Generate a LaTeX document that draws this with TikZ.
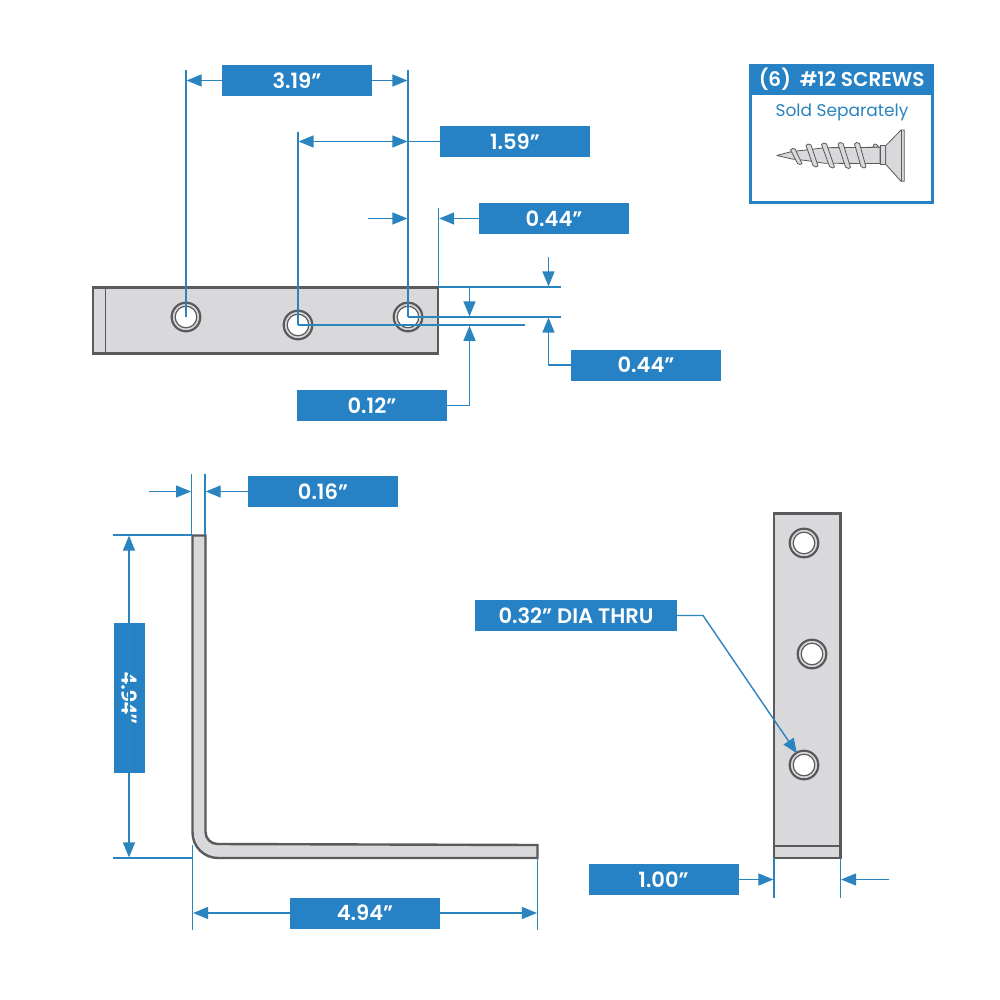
\documentclass[tikz,border=0pt]{standalone}
\usepackage{fontspec}
\setmainfont{Poppins}[BoldFont={Poppins SemiBold}]
\newfontfamily\sidefont{Open Sans}[BoldFont={Open Sans Bold}]
\usetikzlibrary{arrows.meta}
\definecolor{dimblue}{HTML}{2682C4}
\definecolor{lineblue}{HTML}{2A84BE}
\definecolor{steel}{HTML}{D9D9DB}
\definecolor{edgegray}{HTML}{5A5A5C}
\tikzset{
  x=1pt,y=-1pt,
  dimbox/.style={fill=dimblue,text=white,font=\fontsize{21}{24}\selectfont\bfseries,minimum width=150pt,minimum height=31pt,inner sep=0pt,outer sep=0pt},
  dimline/.style={draw=lineblue,line width=1.4pt},
  dimarrow/.style={dimline,-{Triangle[length=15pt,width=12pt]}},
  dimboth/.style={dimline,{Triangle[length=15pt,width=12pt]}-{Triangle[length=15pt,width=12pt]}},
  part/.style={draw=edgegray,fill=steel,line width=2.4pt,line join=miter},
  foldline/.style={draw=edgegray,line width=1.5pt},
  thread/.style={fill=steel,draw=edgegray,line width=0.8pt},
}
\newcommand{\holeat}[2]{%
  \fill[white] (#1,#2) circle[radius=10.5];
  \draw[edgegray,line width=2.2pt] (#1,#2) circle[radius=14.3];
  \draw[edgegray,line width=1.2pt] (#1,#2) circle[radius=10.8];
}
\begin{document}
\begin{tikzpicture}
\useasboundingbox (0,0) rectangle (1000,1000);
\fill[white] (0,0) rectangle (1000,1000);

% ---- top plate
\draw[part] (93,287.5) rectangle (438,353.5);
\draw[foldline] (105.5,287.5) -- (105.5,353.5);
\holeat{186}{317}\holeat{298}{325}\holeat{408}{317}

% value boxes
\node[dimbox] (a) at (297,80.5) {3.19”};
\node[dimbox] (b) at (515,141.5) {1.59”};
\node[dimbox] (c) at (554,218.5) {0.44”};
\node[dimbox] (d) at (646,365) {0.44”};
\node[dimbox] (e) at (372,405.5) {0.12”};
\node[dimbox] (f) at (323,491.5) {0.16”};
\node[dimbox,rotate=-90,font=\fontsize{21}{24}\selectfont\sidefont\bfseries] (g) at (129,698) {4.94”};
\node[dimbox] (h) at (365,913) {4.94”};
\node[dimbox] (i) at (663.5,879.5) {1.00”};
\node[dimbox,minimum width=202pt] (j) at (576,615.5) {0.32” DIA THRU};

% coordinates of the dimension references
\coordinate (h1) at (186,317);\coordinate (h1t) at (186,70);
\coordinate (h2) at (298,325);\coordinate (h2t) at (298,132);
\coordinate (h3) at (408,317);\coordinate (h3t) at (408,70);
\coordinate (edge) at (438.5,287);\coordinate (edget) at (438.5,208);
\draw[dimline] (h1t) -- (h1);
\draw[dimline] (h2t) -- (h2);
\draw[dimline] (h3t) -- (h3);
\draw[dimline] (edget) -- (edge);
\coordinate (r1) at (561,287);\coordinate (r2) at (561,317);\coordinate (r3) at (525,325);
\draw[dimline] (edge) -- (r1);
\draw[dimline] (h3) -- (r2);
\draw[dimline] (h2) -- (r3);

\draw[dimarrow] (a.west) -- (186.6,80.5);
\draw[dimarrow] (a.east) -- (407.4,80.5);
\draw[dimline] (b.west) -- (408,141.5);
\draw[dimboth] (298.6,141.5) -- (407.4,141.5);
\coordinate (c0) at (368,218.5);
\draw[dimarrow] (c0) -- (407.4,218.5);
\draw[dimarrow] (c.west) -- (439.2,218.5);
\coordinate (k0) at (469.5,287);
\draw[dimarrow] (k0) -- (469.5,316.4);
\draw[dimarrow] (e.east) -| (469.5,325.8);
\coordinate (m0) at (548.5,257);
\draw[dimarrow] (m0) -- (548.5,286.4);
\draw[dimarrow] (d.west) -| (548.5,317.6);

% ---- L bracket
\draw[part] (192.5,535.5) -- (205.5,535.5) -- (205.5,832)
  arc[start angle=180,end angle=90,radius=12] -- (537.5,845) -- (537.5,858)
  -- (218,858) arc[start angle=90,end angle=180,radius=25.5] -- cycle;

\coordinate (s1) at (191.7,474);\coordinate (s1b) at (191.7,535);
\coordinate (s2) at (205,474);\coordinate (s2b) at (205,535);
\draw[dimline] (s1) -- (s1b);
\draw[dimline] (s2) -- (s2b);
\coordinate (s0) at (149,491.5);
\draw[dimarrow] (s0) -- (191,491.5);
\draw[dimarrow] (f.west) -- (205.7,491.5);
\coordinate (t1) at (113,535);\coordinate (t2) at (113,858);
\draw[dimline] (t1) -- (s1b);
\coordinate (t2e) at (192.5,858);
\draw[dimline] (t2) -- (t2e);
\draw[dimarrow] (g.east) -- (129,535.6);
\draw[dimarrow] (g.west) -- (129,857.4);
\coordinate (u1) at (192.5,845);\coordinate (u1b) at (192.5,930);
\coordinate (u2) at (537.5,858);\coordinate (u2b) at (537.5,930);
\draw[dimline] (u1) -- (u1b);
\draw[dimline] (u2) -- (u2b);
\draw[dimarrow] (h.west) -- (193.1,913);
\draw[dimarrow] (h.east) -- (536.9,913);

% ---- right plate
\draw[part] (774,513.5) rectangle (840.5,858);
\draw[foldline] (774,846) -- (840.5,846);
\holeat{804}{543}\holeat{812}{654}\holeat{804}{765}
\coordinate (v1) at (774,858);\coordinate (v1b) at (774,898);
\coordinate (v2) at (840.5,858);\coordinate (v2b) at (840.5,898);
\draw[dimline] (v1) -- (v1b);
\draw[dimline] (v2) -- (v2b);
\draw[dimarrow] (i.east) -- (773.4,879.5);
\coordinate (v0) at (889,879.5);
\draw[dimarrow] (v0) -- (841.1,879.5);
\coordinate (lead) at (703,615.5);
\coordinate (holeedge) at (797,753.5);
\draw[dimarrow] (j.east) -- (lead) -- (holeedge);

% ---- legend
\node[draw=dimblue,fill=white,line width=3pt,minimum width=182pt,minimum height=137pt,inner sep=0pt] (legend) at (841.7,134) {};
\node[fill=dimblue,text=white,font=\fontsize{20}{23}\selectfont\bfseries,minimum width=185pt,minimum height=31pt,inner sep=0pt] (head) at (841.7,79.5) {(6)\hspace{4pt} \#12 SCREWS};
\node[text=lineblue,font=\fontsize{17}{20}\selectfont,inner sep=0pt] (sold) at (842,112) {Sold Separately};

% ---- screw
\begin{scope}[draw=edgegray,line width=0.8pt,line join=round]
\filldraw[fill=steel] (776.7,155.5) -- (792,151.5) -- (806,150) -- (825,147.7) -- (880,147.3) -- (880,163.5) -- (825,163.3) -- (806,160.5) -- (792,159) -- cycle;
\filldraw[thread] (873,147) .. controls (873.5,143) and (876,143) .. (879,147) -- cycle;
\filldraw[thread] (880,145.7) -- (885.7,145.7) -- (885.7,164.3) -- (880,164.3) -- cycle;
\filldraw[fill=steel] (885.7,145.7) -- (901,130) -- (904.3,130) -- (904.3,181.3) -- (901,181.3) -- (885.7,164.3) -- cycle;
\draw (901,130) -- (901,181.3);
\filldraw[thread] (790.5,150) -- (792.5,148.5) -- (795,149) -- (802,163.5) -- (800,164.5) -- (797.5,163.5) -- cycle;
\filldraw[thread] (806,145.5) -- (808,144) -- (811,145) -- (818,166) -- (816,167) -- (813,165.5) -- cycle;
\filldraw[thread] (821.5,144.5) -- (823.5,143) -- (826.5,144) -- (834.5,167) -- (832.5,168) -- (829.5,166.5) -- cycle;
\filldraw[thread] (838,144) -- (840,142.5) -- (843,143.5) -- (850.5,167.5) -- (848.5,168.5) -- (845.5,167) -- cycle;
\filldraw[thread] (854.5,144) -- (856.5,142.5) -- (859.5,143.5) -- (866,167) -- (864,168) -- (861,166.5) -- cycle;
\end{scope}
\end{tikzpicture}
\end{document}
